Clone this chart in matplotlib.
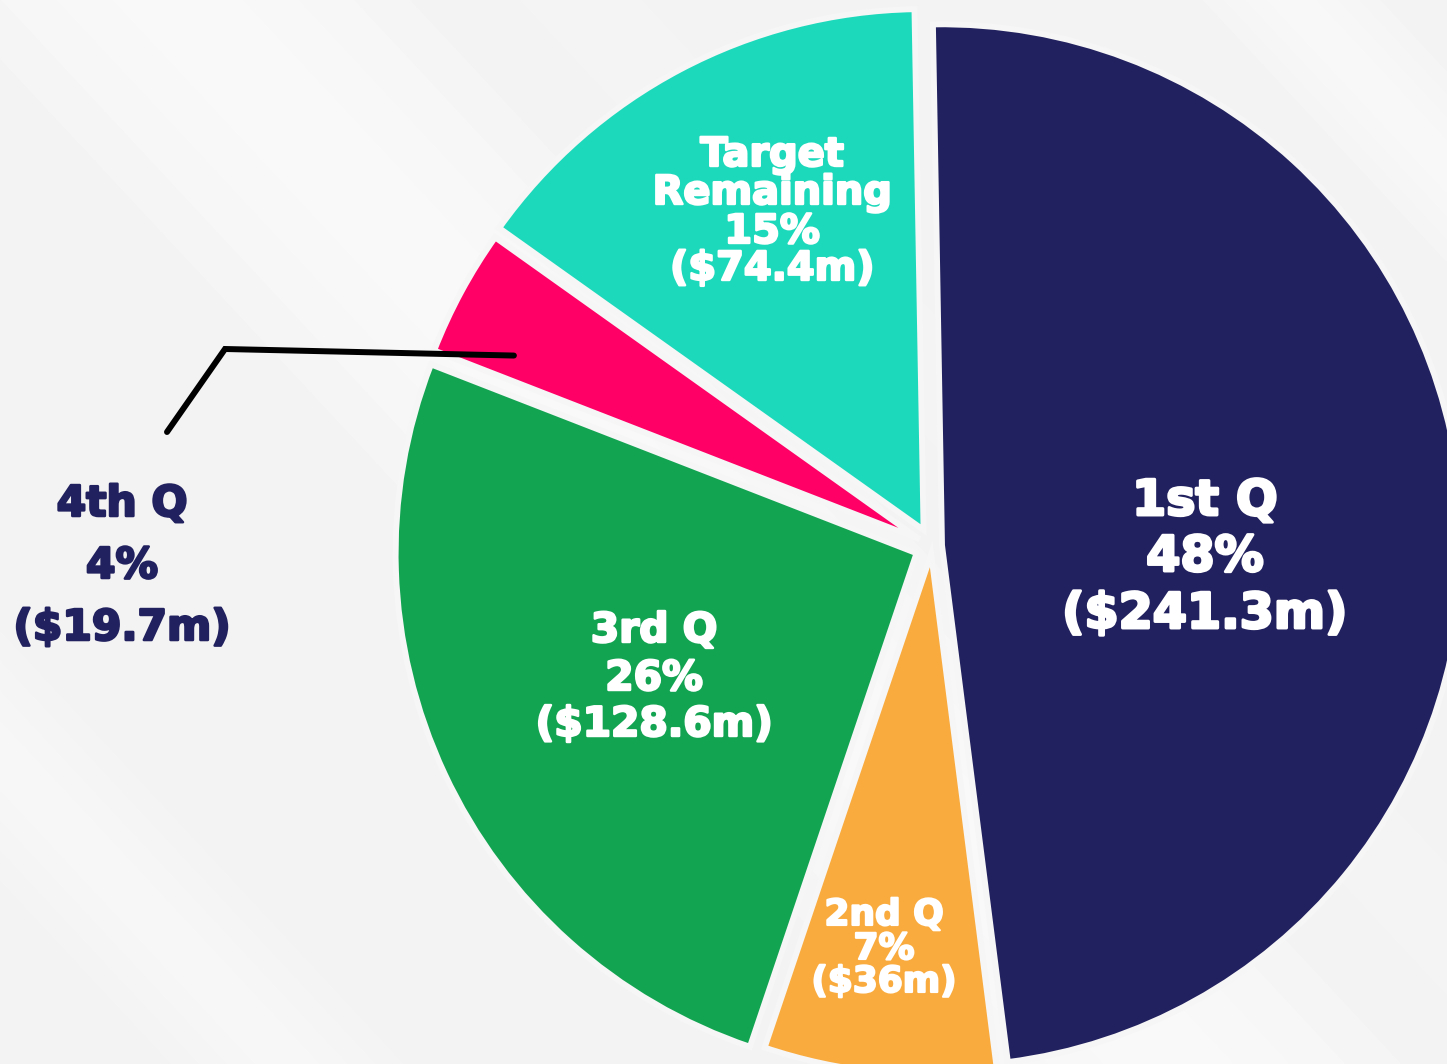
import numpy as np
import matplotlib.pyplot as plt
import matplotlib.patheffects as pe

# data
quarters = ["1st Q", "2nd Q", "3rd Q", "4th Q", "Target\nRemaining"]
sales_m = [241.3, 36.0, 128.6, 19.7, 74.4]
colors = ["#22215F", "#FAAB3E", "#13A452", "#FF0066", "#1DD9BB"]
text_colors = ["white", "white", "white", "#22215F", "white"]

W, H = 1447, 1064
BG = "#F3F3F3"
FONT = ["DejaVu Sans"]

fig = plt.figure(figsize=(W / 100, H / 100), dpi=100)
fig.patch.set_facecolor(BG)
ax = fig.add_axes([0, 0, 1, 1])
ax.set_facecolor(BG)

# soft white diagonal streaks in the background (layout only)
n = np.array([0.73, -0.68])
n = n / np.linalg.norm(n)
d = np.array([0.68, 0.73])
d = d / np.linalg.norm(d)
streaks = [(-40, 300, 0.95), (-600, -430, 0.6), (880, 1010, 0.8), (380, 470, 0.35)]
for s1, s2, a in streaks:
    for k in range(4):
        shrink = k * (s2 - s1) * 0.12
        a1, a2 = s1 + shrink, s2 - shrink
        pts = [a1 * n - 4000 * d, a1 * n + 4000 * d, a2 * n + 4000 * d, a2 * n - 4000 * d]
        ax.fill([p[0] for p in pts], [H - p[1] for p in pts], color="white",
                alpha=a / 4, lw=0, zorder=0)

# the pie itself, in pixel-sized data units
cx, cy = 932, H - 546
radius = 521
wedges, _ = ax.pie(sales_m, colors=colors, startangle=91, counterclock=False,
                   radius=radius, center=(cx, cy), explode=[10, 8, 17, 14, 18],
                   frame=True,
                   wedgeprops=dict(linewidth=4.3, edgecolor="#F6F6F6", joinstyle="miter"))
for w in wedges:
    w.set_zorder(2)

ax.set_xlim(0, W)
ax.set_ylim(0, H)
ax.set_aspect("auto")
ax.axis("off")

# labels: centre x, baselines (picture pixels) and width of widest line
label_x = [1205, 884, 654, 122, 772]
baselines = [[515, 571, 628], [925, 959, 992], [642, 690, 736], [516, 578, 640], [166, 204, 243, 280]]
widths = [285, 145, 237, 217, 239]

total = sum(sales_m)
renderer = fig.canvas.get_renderer()
for i, v in enumerate(sales_m):
    lines = quarters[i].split("\n") + [f"{round(v / total * 100)}%", f"(${v:g}m)"]
    texts = []
    for s, yb in zip(lines, baselines[i]):
        t = ax.text(label_x[i], H - yb, s, ha="center", va="baseline", fontsize=30,
                    fontweight="bold", family=FONT, color=text_colors[i],
                    parse_math=False, zorder=5)
        texts.append(t)
    widest = max(t.get_window_extent(renderer).width for t in texts)
    size = 30 * widths[i] / widest
    for t in texts:
        t.set_fontsize(size)
        t.set_path_effects([pe.withStroke(linewidth=size * 0.06, foreground=text_colors[i])])

# leader line for the small 4th Q slice
w4 = wedges[3]
ang = np.radians(w4.theta1 + 0.78 * (w4.theta2 - w4.theta1))
sx = w4.center[0] + 0.855 * w4.r * np.cos(ang)
sy = w4.center[1] + 0.855 * w4.r * np.sin(ang)
ax.plot([sx, 225, 167], [sy, H - 349, H - 432], color="black", lw=4.3,
        solid_capstyle="round", solid_joinstyle="miter", zorder=4)

fig.savefig("out.png", dpi=100, facecolor=BG)
